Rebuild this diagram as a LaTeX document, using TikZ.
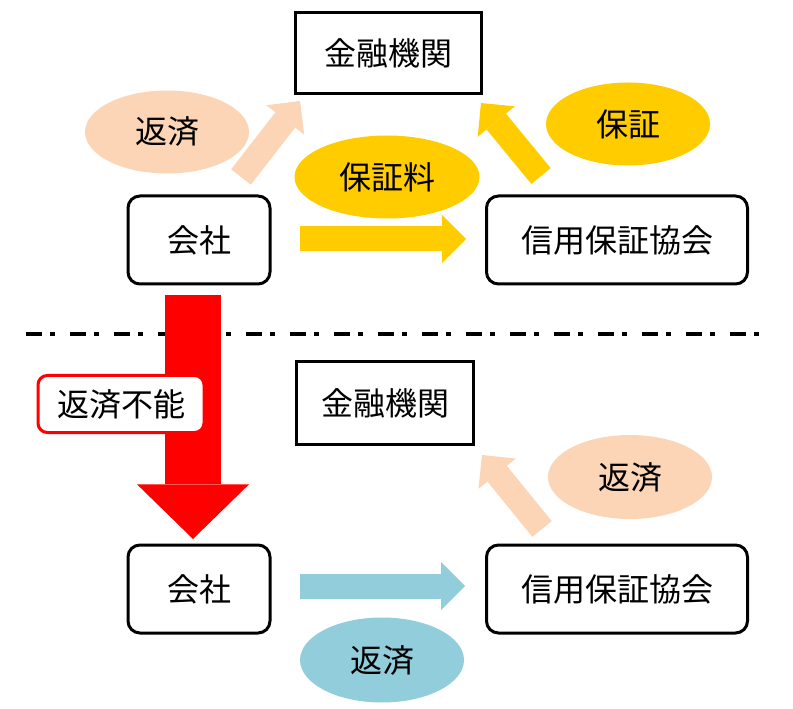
\documentclass[tikz,border=0pt]{standalone}
\usepackage{fontspec}
\setmainfont{Noto Sans CJK JP}
\usetikzlibrary{arrows.meta,shapes.geometric}
\definecolor{peach}{HTML}{FBD5B5}
\definecolor{gold}{HTML}{FFCC00}
\definecolor{aqua}{HTML}{92CDDC}
\tikzset{
  bank/.style={draw,line width=2.25pt,inner sep=0pt,minimum width=186*.75pt,minimum height=81*.75pt},
  firm/.style={draw,line width=2.25pt,rounded corners=9pt,inner sep=0pt,minimum height=88*.75pt},
  oval/.style={ellipse,inner sep=0pt,minimum width=164*.75pt,minimum height=83*.75pt},
  block/.style={line width=18.75pt,-{Triangle[length=18pt,width=36pt,line width=0pt]}}
}
\begin{document}
\begin{tikzpicture}[x=.75pt,y=-.75pt,line join=miter,font=\fontsize{24}{28}\selectfont]
  \useasboundingbox (0,0) rectangle (793,709);
  \draw[line width=3pt,dash pattern=on 12pt off 6pt on 3.75pt off 11.25pt] (26,334) -- (764,334);
  \node[bank] (B1) at (388,53) {金融機関};
  \node[firm,minimum width=142*.75pt] (K1) at (199,240) {会社};
  \node[firm,minimum width=261*.75pt] (S1) at (617,240) {信用保証協会};
  \node[oval,fill=peach] (R1) at (167,132) {返済};
  \node[oval,fill=gold,minimum width=185*.75pt] (P1) at (387,177) {保証料};
  \node[oval,fill=gold] (G1) at (628,124) {保証};
  \coordinate (a1) at (241,177); \coordinate (a2) at (300,101);
  \coordinate (b1) at (541,176); \coordinate (b2) at (481,103);
  \coordinate (c1) at (300,239); \coordinate (c2) at (466,239);
  \draw[block,peach] (a1) -- (a2);
  \draw[block,gold] (b1) -- (b2);
  \draw[block,gold] (c1) -- (c2);
  \coordinate (d1) at (193,295); \coordinate (d2) at (193,539);
  \draw[red,line width=42pt,-{Triangle[length=41pt,width=84pt,line width=0pt]}] (d1) -- (d2);
  \node[draw=red,fill=white,line width=2.25pt,rounded corners=7pt,inner sep=0pt,minimum width=166*.75pt,minimum height=57*.75pt] (F1) at (121,404) {返済不能};
  \node[bank,minimum width=177*.75pt,minimum height=83*.75pt] (B2) at (385,403) {金融機関};
  \node[firm,minimum width=142*.75pt] (K2) at (199,589) {会社};
  \node[firm,minimum width=261*.75pt] (S2) at (617,589) {信用保証協会};
  \node[oval,fill=peach,minimum height=84*.75pt] (R2) at (630,477) {返済};
  \node[oval,fill=aqua,minimum height=85*.75pt] (R3) at (382,660) {返済};
  \coordinate (e1) at (542,529); \coordinate (e2) at (482,455);
  \coordinate (f1) at (300,586); \coordinate (f2) at (465,586);
  \draw[block,peach] (e1) -- (e2);
  \draw[block,aqua] (f1) -- (f2);
\end{tikzpicture}
\end{document}
